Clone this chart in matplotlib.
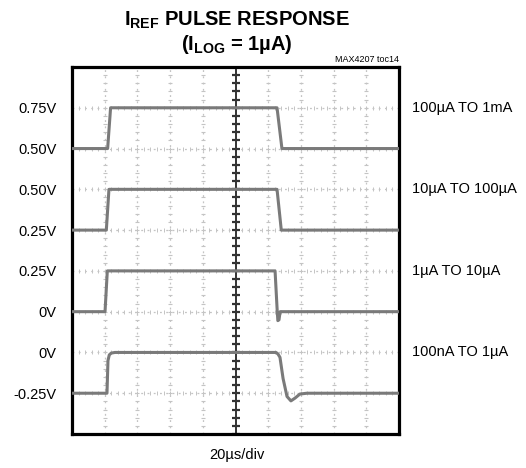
import matplotlib
matplotlib.use("Agg")
import matplotlib.pyplot as plt
import numpy as np
from matplotlib import font_manager

# ---------------- data ----------------
time_us = [0, 200]  # 20us/div, 10 divisions
labels_right = ["100\u00b5A TO 1mA", "10\u00b5A TO 100\u00b5A", "1\u00b5A TO 10\u00b5A", "100nA TO 1\u00b5A"]
low_levels = [0.50, 0.25, 0.00, -0.25]     # V, baseline of each trace
base_div = [7, 5, 3, 1]                    # screen division of each baseline
volts_per_div = 0.25

t1 = [0, 21.8, 23.6, 125.4, 128.4, 200]
v1 = [0.50, 0.50, 0.75, 0.75, 0.50, 0.50]

t2 = [0, 21.0, 22.6, 125.4, 128.0, 200]
v2 = [0.25, 0.25, 0.50, 0.50, 0.25, 0.25]

t3 = [0, 20.2, 21.6, 124.2, 125.4, 125.9, 126.6, 127.3, 200]
v3 = [0.0, 0.0, 0.25, 0.25, 0.025, -0.055, -0.05, 0.0, 0.0]

t4 = [0, 21.4, 22.0, 22.8, 24.0, 26.3, 124.8, 126.0, 127.2, 129.1, 131.5, 133.9, 136.4, 139.4, 143.7, 200]
v4 = [-0.25, -0.25, -0.05, -0.015, -0.004, 0.0, 0.0, -0.01, -0.03, -0.16, -0.27, -0.297, -0.28, -0.255, -0.25, -0.25]

ytick_pos = [8, 7, 6, 5, 4, 3, 2, 1]
ytick_labels = ["0.75V", "0.50V", "0.50V", "0.25V", "0.25V", "0V", "0V", "-0.25V"]

traces = [(t1, v1), (t2, v2), (t3, v3), (t4, v4)]

# ---------------- fonts ----------------
avail = {f.name for f in font_manager.fontManager.ttflist}
fam = "Liberation Sans Narrow" if "Liberation Sans Narrow" in avail else "Liberation Sans"
plt.rcParams["font.family"] = [fam, "DejaVu Sans"]
plt.rcParams["mathtext.fontset"] = "custom"
plt.rcParams["mathtext.rm"] = fam
plt.rcParams["mathtext.bf"] = fam + ":bold"

fig = plt.figure(figsize=(5.26, 4.68), dpi=100)
ax = fig.add_axes([72/526, 1-434/468, 327/526, 367/468])
ax.set_xlim(0, 200)
ax.set_ylim(0, 9)

# graticule
grid_c = "#c4c4c4"
for i in range(1, 10):
    x = i * 20
    if i == 5:
        continue
    ax.plot([x, x], [0, 9], color=grid_c, lw=0.9, ls=(0, (1.5, 3.5)), zorder=1)
    ys = np.arange(0, 9.01, 0.2)
    ax.plot([x]*len(ys), ys, ls="none", marker="_", ms=3.5, mew=0.8, color=grid_c, zorder=1)
for j in range(1, 9):
    ax.plot([0, 200], [j, j], color=grid_c, lw=0.9, ls=(0, (1.5, 3.5)), zorder=1)
    xs = np.arange(0, 200.01, 4)
    ax.plot(xs, [j]*len(xs), ls="none", marker="|", ms=3, mew=0.7, color=grid_c, zorder=1)
# center line
ax.plot([100, 100], [0, 9], color="#333333", lw=1.4, zorder=2)
ys = np.arange(0, 9.01, 0.2)
ax.plot([100]*len(ys), ys, ls="none", marker="_", ms=6, mew=1.6, color="#333333", zorder=2)

# traces
for (t, v), lo, b in zip(traces, low_levels, base_div):
    d = b + (np.array(v) - lo) / volts_per_div
    ax.plot(t, d, color="#7a7a7a", lw=2.2, zorder=3, solid_joinstyle="round")

for s in ax.spines.values():
    s.set_linewidth(2.3)
    s.set_color("black")

ax.set_xticks([])
ax.set_yticks(ytick_pos)
ax.set_yticklabels(ytick_labels, fontsize=10.5)
ax.tick_params(axis="y", length=0, pad=11)

for lab, b in zip(labels_right, base_div):
    ax.text(1.04, (b + 1) / 9, lab, transform=ax.transAxes, ha="left", va="center", fontsize=10.5)

fig.text(237/526, 1-20/468, r"$\mathbf{I_{REF}}$" + " PULSE RESPONSE", ha="center", va="center",
         fontsize=14.5, fontweight="bold")
fig.text(237/526, 1-44/468, r"$\mathbf{(I_{LOG}}$" + " = 1\u00b5A)", ha="center", va="center",
         fontsize=14.5, fontweight="bold")
fig.text(399/526, 1-60/468, "MAX4207 toc14", ha="right", va="center", fontsize=6.5)
fig.text(237/526, 1-455/468, "20\u00b5s/div", ha="center", va="center", fontsize=10.5)

fig.savefig("out.png", dpi=100)
